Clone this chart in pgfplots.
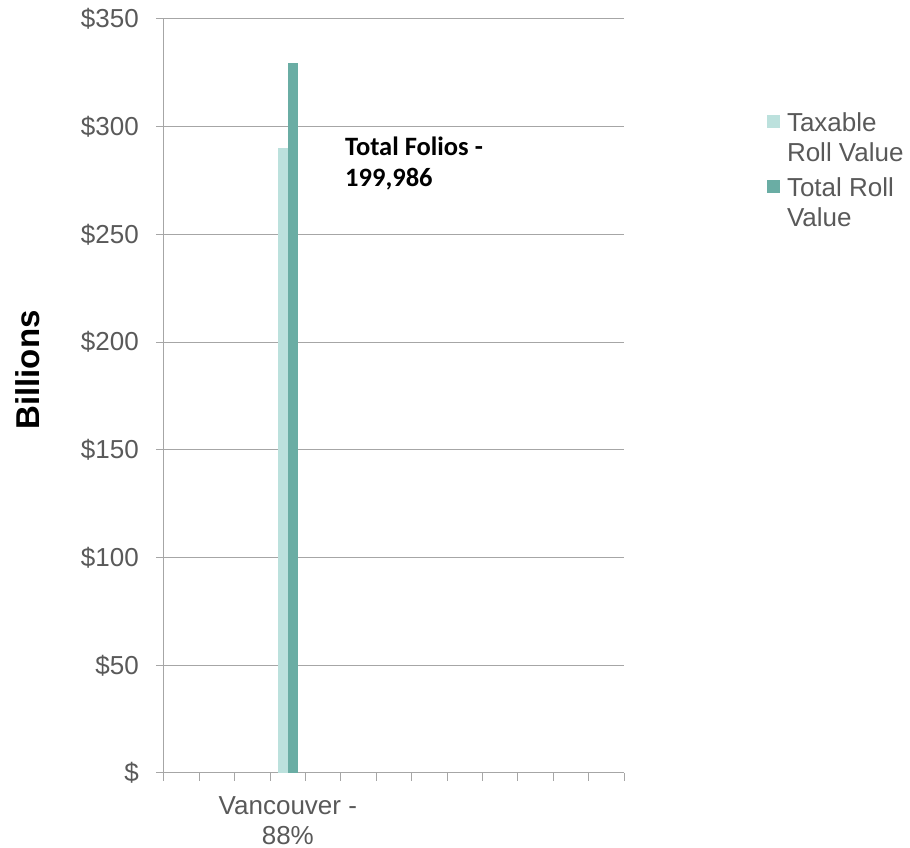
\documentclass[border=0pt]{standalone}
\usepackage{fontspec}
\setmainfont{Liberation Sans}
\newfontfamily\carlito{Carlito}
\usepackage{pgfplots}
\pgfplotsset{compat=1.18}
\definecolor{lightteal}{RGB}{188,225,221}
\definecolor{darkteal}{RGB}{106,173,164}
\definecolor{txtgrey}{RGB}{89,89,89}
\definecolor{linegrey}{RGB}{166,166,166}
\begin{document}
\begin{tikzpicture}
\begin{axis}[
  scale only axis,
  width=460pt, height=754pt,
  xmin=0, xmax=13, ymin=0, ymax=350,
  ybar=0pt, bar width=0.28,
  axis x line*=bottom, axis y line*=left,
  axis line style={linegrey, line width=1pt, -},
  xtick={0,...,13}, xticklabels={},
  ytick={0,50,...,350},
  yticklabels={\$,\$50,\$100,\$150,\$200,\$250,\$300,\$350},
  tick align=outside,
  major tick length=8pt,
  tick style={linegrey, line width=1pt},
  ymajorgrids, grid style={linegrey, line width=1pt},
  ticklabel style={font=\fontsize{26}{30}\selectfont, text=txtgrey},
  yticklabel style={anchor=east, inner sep=0pt, xshift=-17pt},
  extra x ticks={3.5},
  extra x tick labels={\begin{tabular}[t]{@{}c@{}}Vancouver -\\88\%\end{tabular}},
  extra x tick style={major tick length=0pt, xticklabel style={anchor=north, inner sep=0pt, yshift=-20pt}},
  legend style={at={(rel axis cs:1.3109,0.878)}, anchor=north west, draw=none, fill=none,
    inner sep=0pt, outer sep=0pt, row sep=42pt, column sep=7pt,
    font=\fontsize{26}{30}\selectfont, text=txtgrey,
    cells={anchor=base west}, nodes={inner sep=0pt}},
  legend cell align=left,
]
\addplot[fill=lightteal, draw=none,
  legend image code/.code={\fill[lightteal] (0pt,-6pt) rectangle (13pt,7pt);}]
  coordinates {(3.5,290)};
\addlegendentry{\begin{tabular}[t]{@{}l@{}}Taxable\\Roll Value\end{tabular}}
\addplot[fill=darkteal, draw=none,
  legend image code/.code={\fill[darkteal] (0pt,-6pt) rectangle (13pt,7pt);}]
  coordinates {(3.5,329.5)};
\addlegendentry{\begin{tabular}[t]{@{}l@{}}Total Roll\\Value\end{tabular}}
\node[anchor=base west, inner sep=0pt, font=\carlito\bfseries\fontsize{26.5}{30}\selectfont] at (rel axis cs:0.3935,0.8196) {Total Folios -};
\node[anchor=base west, inner sep=0pt, font=\carlito\bfseries\fontsize{26.5}{30}\selectfont] at (rel axis cs:0.3935,0.7772) {199,986};
\coordinate (yl) at (rel axis cs:0,0.5345);
\coordinate (O) at (rel axis cs:0,0);
\end{axis}
\node[rotate=90, anchor=base, inner sep=0pt, font=\bfseries\fontsize{33}{38}\selectfont] at ([xshift=-124pt]yl) {Billions};
\pgfresetboundingbox
\path (O) ++(-164pt,-75pt) rectangle ++(910pt,848pt);
\end{tikzpicture}
\end{document}
